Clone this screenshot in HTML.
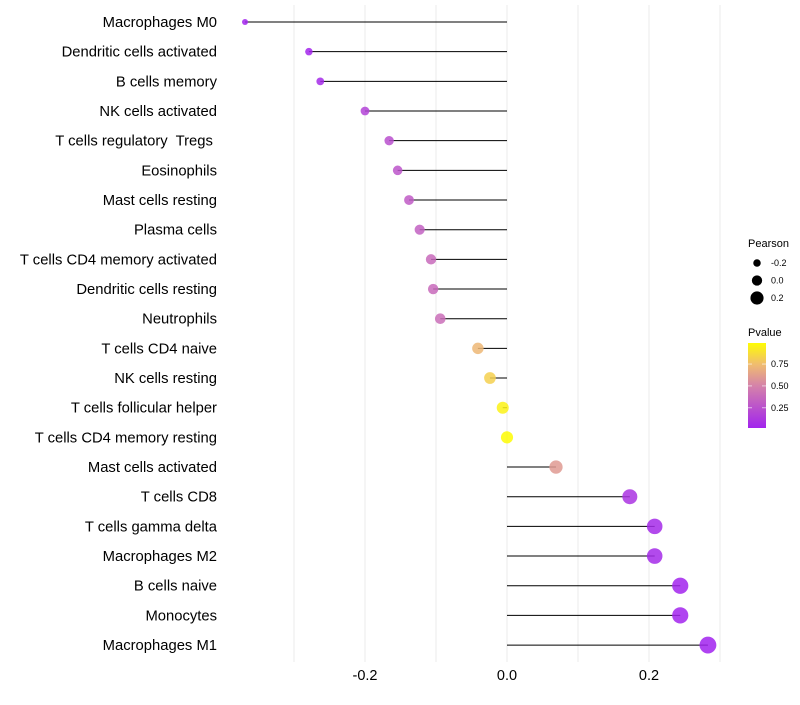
<!DOCTYPE html>
<html><head><meta charset="utf-8">
<style>body{margin:0;background:#fff;font-family:"Liberation Sans",sans-serif}text{white-space:pre}</style>
</head><body>
<svg id="chart" width="800" height="700" xmlns="http://www.w3.org/2000/svg"></svg>
<script>
const categories=["Macrophages M0","Dendritic cells activated","B cells memory","NK cells activated","T cells regulatory  Tregs ","Eosinophils","Mast cells resting","Plasma cells","T cells CD4 memory activated","Dendritic cells resting","Neutrophils","T cells CD4 naive","NK cells resting","T cells follicular helper","T cells CD4 memory resting","Mast cells activated","T cells CD8","T cells gamma delta","Macrophages M2","B cells naive","Monocytes","Macrophages M1"];
const pearson=[-0.369,-0.279,-0.263,-0.2,-0.166,-0.154,-0.138,-0.123,-0.107,-0.104,-0.094,-0.041,-0.024,-0.006,0.0,0.069,0.173,0.208,0.208,0.244,0.244,0.283];
const pvalue=[0.02,0.03,0.05,0.18,0.24,0.27,0.3,0.33,0.38,0.38,0.4,0.72,0.82,0.95,0.99,0.6,0.1,0.05,0.05,0.02,0.02,0.01];
const xTicks=[-0.2,0.0,0.2];
const xTickLabels=["-0.2","0.0","0.2"];
const sizeTicks=[-0.2,0.0,0.2];
const pTicks=[0.25,0.5,0.75];
const NS="http://www.w3.org/2000/svg";
const svg=document.getElementById('chart');
function mk(t,a,p){const e=document.createElementNS(NS,t);for(const k in a)e.setAttribute(k,a[k]);(p||svg).appendChild(e);return e;}
const x=v=>507+v*710;
const y=i=>22+i*29.67;
const r=v=>Math.max(1.5,3+ (v+0.37)*8.3);
function col(p){
 const stops=[[0,[160,32,240]],[0.5,[212,130,170]],[0.75,[240,190,110]],[1,[255,255,0]]];
 for(let i=1;i<stops.length;i++){if(p<=stops[i][0]){const a=stops[i-1],b=stops[i],t=(p-a[0])/(b[0]-a[0]);return 'rgb('+a[1].map((c,j)=>Math.round(c+(b[1][j]-c)*t)).join(',')+')';}}
 return 'rgb(255,255,0)';
}
for(let k=-3;k<=3;k++){
 const g=mk('line',{x1:x(k/10),x2:x(k/10),y1:5,y2:662,stroke:'#ebebeb','stroke-width':1});
 
}
xTicks.forEach((v,i)=>{const t=mk('text',{x:x(v),y:680,'text-anchor':'middle','font-size':14.5,fill:'#000'});t.textContent=xTickLabels[i];
});
categories.forEach((c,i)=>{
 const t=mk('text',{x:217,y:y(i)+5,'text-anchor':'end','font-size':14.8,fill:'#000'});t.textContent=c;
 
 const l=mk('line',{x1:x(0),x2:x(pearson[i]),y1:y(i),y2:y(i),stroke:'#000','stroke-width':1});
 
 const d=mk('circle',{cx:x(pearson[i]),cy:y(i),r:r(pearson[i]),fill:col(pvalue[i]),'fill-opacity':0.85});
 
});
const lt=mk('text',{x:748,y:247,'font-size':11});lt.textContent='Pearson';

sizeTicks.forEach((v,i)=>{const cy=263+i*17.5;
 const c=mk('circle',{cx:757,cy:cy,r:r(v)*0.85,fill:'#000'});
 const t=mk('text',{x:771,y:cy+3,'font-size':9});t.textContent=v.toFixed(1);});
const pt=mk('text',{x:748,y:336,'font-size':11});pt.textContent='Pvalue';

const defs=mk('defs',{});const lg=mk('linearGradient',{id:'pg',x1:0,y1:1,x2:0,y2:0},defs);
[0,0.25,0.5,0.75,1].forEach(s=>mk('stop',{offset:s,'stop-color':col(0.02+s*0.97)},lg));
const bar=mk('rect',{x:748,y:343,width:18,height:85,fill:'url(#pg)'});

const py=p=>428-(p-0.02)/0.97*85;
pTicks.forEach(p=>{
 mk('line',{x1:748,x2:752,y1:py(p),y2:py(p),stroke:'#fff','stroke-width':0.6});
 mk('line',{x1:762,x2:766,y1:py(p),y2:py(p),stroke:'#fff','stroke-width':0.6});
 const t=mk('text',{x:771,y:py(p)+3,'font-size':9});t.textContent=p.toFixed(2);
 });
</script>
</body></html>
